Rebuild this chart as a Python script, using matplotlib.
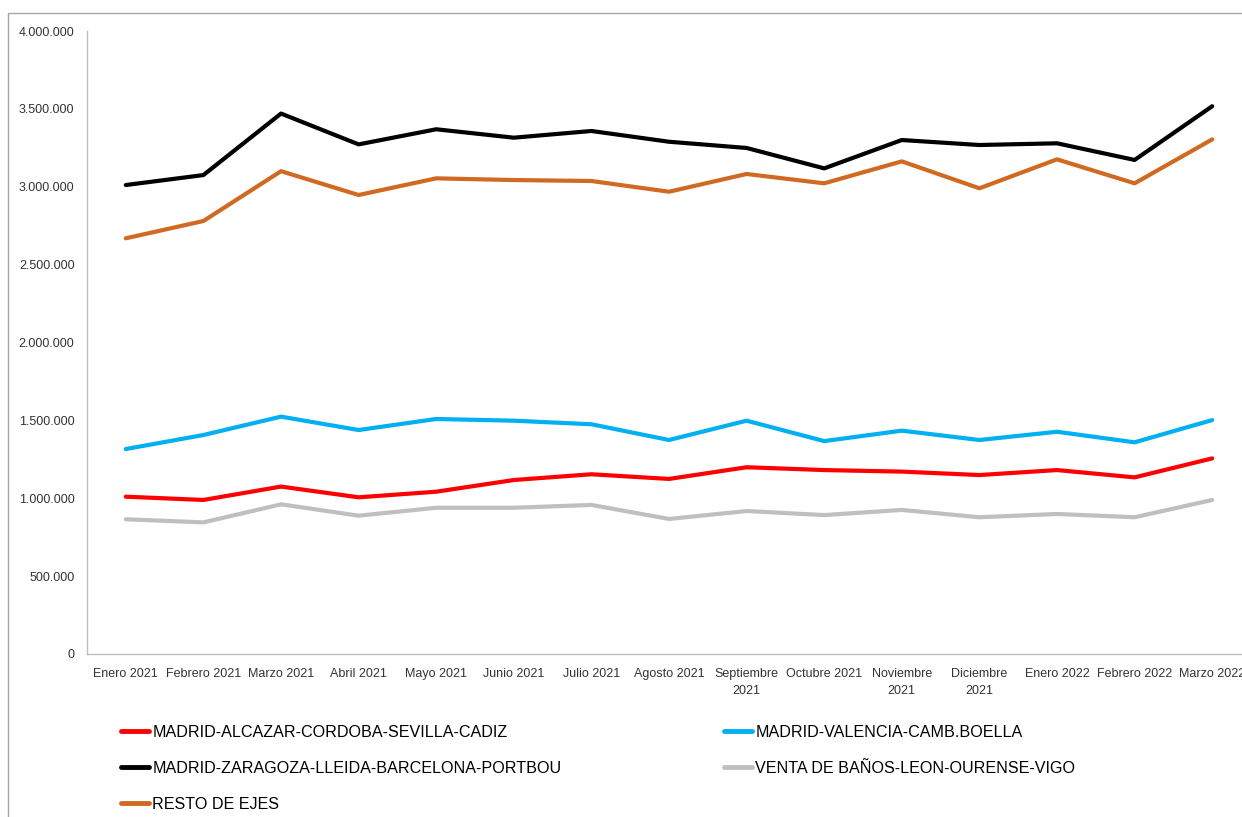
import matplotlib
matplotlib.use("Agg")
import matplotlib.pyplot as plt
from matplotlib.patches import Rectangle
from matplotlib.ticker import FuncFormatter, MultipleLocator

months = ["Enero 2021", "Febrero 2021", "Marzo 2021", "Abril 2021", "Mayo 2021",
          "Junio 2021", "Julio 2021", "Agosto 2021", "Septiembre\n2021", "Octubre 2021",
          "Noviembre\n2021", "Diciembre\n2021", "Enero 2022", "Febrero 2022", "Marzo 2022"]

cordoba = [1010000, 989000, 1075000, 1006000, 1042000, 1117000, 1154000, 1124000,
           1199000, 1181000, 1171000, 1149000, 1181000, 1134000, 1256000]
valencia = [1316000, 1406000, 1524000, 1438000, 1509000, 1498000, 1475000, 1374000,
            1498000, 1367000, 1434000, 1374000, 1427000, 1359000, 1502000]
barcelona = [3011000, 3075000, 3470000, 3272000, 3369000, 3315000, 3358000, 3289000,
             3249000, 3118000, 3300000, 3268000, 3279000, 3172000, 3517000]
vigo = [865000, 845000, 961000, 888000, 939000, 939000, 957000, 867000,
        918000, 892000, 925000, 878000, 899000, 878000, 989000]
resto = [2669000, 2780000, 3100000, 2947000, 3054000, 3043000, 3037000, 2968000,
         3082000, 3022000, 3163000, 2990000, 3176000, 3022000, 3304000]

series_names = ["MADRID-ALCAZAR-CORDOBA-SEVILLA-CADIZ",
                "MADRID-VALENCIA-CAMB.BOELLA",
                "MADRID-ZARAGOZA-LLEIDA-BARCELONA-PORTBOU",
                "VENTA DE BAÑOS-LEON-OURENSE-VIGO",
                "RESTO DE EJES"]
series_values = [cordoba, valencia, barcelona, vigo, resto]
series_colors = ["#FF0000", "#00B0F0", "#000000", "#BFBFBF", "#D06A22"]

FONT = ["Liberation Sans", "DejaVu Sans"]
plt.rcParams["font.family"] = FONT

W, H = 1242, 817
fig = plt.figure(figsize=(W / 100, H / 100), dpi=100)

# outer chart frame
fig.patches.append(Rectangle((8 / W, -0.1), 1.2, (H - 13) / H + 0.1,
                             transform=fig.transFigure, fill=False,
                             edgecolor="#A6A6A6", lw=1.0))

left, right, top, bottom = 87, 1251, 31, 654
ax = fig.add_axes([left / W, (H - bottom) / H, (right - left) / W, (bottom - top) / H])

x = list(range(len(months)))
lines = []
for name, vals, col in zip(series_names, series_values, series_colors):
    ln, = ax.plot(x, vals, color=col, lw=3.0, label=name, solid_joinstyle="round",
                  solid_capstyle="round")
    lines.append(ln)

ax.set_xlim(-0.5, len(months) - 0.5)
ax.set_ylim(0, 4000000)
ax.yaxis.set_major_locator(MultipleLocator(500000))
ax.yaxis.set_major_formatter(FuncFormatter(lambda v, p: f"{int(v):,}".replace(",", ".")))
ax.set_xticks(x)
ax.set_xticklabels(months, fontsize=9, color="#333333", linespacing=1.6)
ax.tick_params(axis="y", length=0, pad=9, labelsize=9, labelcolor="#333333")
ax.tick_params(axis="x", length=0, pad=10)
for s in ["top", "right"]:
    ax.spines[s].set_visible(False)
for s in ["left", "bottom"]:
    ax.spines[s].set_color("#BFBFBF")
    ax.spines[s].set_linewidth(1.0)

# legend in two columns
col1 = [lines[0], lines[2], lines[4]]
col2 = [lines[1], lines[3]]
common = dict(frameon=False, fontsize=11.6, handlelength=1.75, handletextpad=0.2,
              labelspacing=1.3, borderaxespad=0, borderpad=0)
leg1 = fig.legend(handles=col1, labels=[l.get_label() for l in col1],
                  loc="upper left", bbox_to_anchor=(121 / W, (H - 725) / H), **common)
leg2 = fig.legend(handles=col2, labels=[l.get_label() for l in col2],
                  loc="upper left", bbox_to_anchor=(724 / W, (H - 725) / H), **common)
for leg in (leg1, leg2):
    for h in leg.legend_handles:
        h.set_linewidth(3.5)
    for t in leg.get_texts():
        t.set_color("#000000")

fig.savefig("out.png", dpi=100)
